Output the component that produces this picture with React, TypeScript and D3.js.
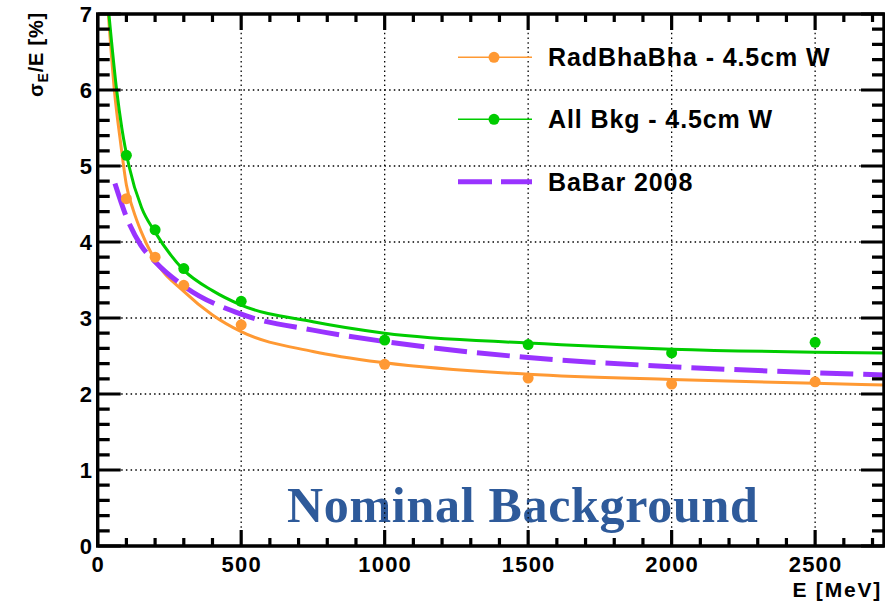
import React from "react";
import * as d3 from "d3";

// Fit curves
const orangeFitE = [37, 58, 80, 100, 124, 150, 200, 300, 400, 500, 750, 1000, 1500, 2000, 2500, 2740];
const orangeFitV = [7.0, 6.0, 5.3, 4.75, 4.42, 4.15, 3.76, 3.35, 3.04, 2.82, 2.56, 2.41, 2.26, 2.19, 2.14, 2.12];
const greenFitE = [39, 66, 84, 109, 153, 200, 300, 400, 500, 750, 1000, 1500, 2000, 2500, 2740];
const greenFitV = [7.0, 6.0, 5.5, 5.0, 4.45, 4.13, 3.63, 3.36, 3.17, 2.95, 2.8, 2.67, 2.59, 2.55, 2.54];
const babarE = [60, 100, 150, 200, 300, 500, 750, 1000, 1500, 2000, 2500, 2740];
const babarV = [4.77, 4.33, 3.96, 3.74, 3.42, 3.05, 2.84, 2.69, 2.48, 2.36, 2.28, 2.25];

// Measured points
const pointE = [100, 200, 300, 500, 1000, 1500, 2000, 2500];
const orangePts = [4.57, 3.8, 3.43, 2.91, 2.39, 2.21, 2.13, 2.16];
const greenPts = [5.14, 4.16, 3.65, 3.22, 2.71, 2.65, 2.54, 2.68];

const xTicks = [0, 500, 1000, 1500, 2000, 2500];
const yTicks = [0, 1, 2, 3, 4, 5, 6, 7];
const legendLabels = ["RadBhaBha - 4.5cm W", "All Bkg - 4.5cm W", "BaBar 2008"];

const ORANGE = "#ff9933";
const GREEN = "#00cc00";
const PURPLE = "#9933ff";

const L = 97.7, R = 884, T = 14, B = 546;

export default function App() {
  const x = d3.scaleLinear().domain([0, 2740]).range([L, R]);
  const y = d3.scaleLinear().domain([0, 7]).range([B, T]);
  const line = d3
    .line<[number, number]>()
    .x((d) => x(d[0]))
    .y((d) => y(d[1]))
    .curve(d3.curveMonotoneX);
  const zip = (a: number[], b: number[]) => a.map((v, i) => [v, b[i]] as [number, number]);

  const xMinor = d3.range(100, 2740, 100).filter((v) => v % 500 !== 0);
  const yMinor = d3.range(1, 35).filter((k) => k % 5 !== 0).map((k) => k / 5);

  const p = d3.path();
  const seg = (x1: number, y1: number, x2: number, y2: number) => {
    p.moveTo(x1, y1);
    p.lineTo(x2, y2);
  };
  xTicks.forEach((v) => {
    seg(x(v), B, x(v), B - 16);
    seg(x(v), T, x(v), T + 16);
  });
  xMinor.forEach((v) => {
    seg(x(v), B, x(v), B - 8);
    seg(x(v), T, x(v), T + 8);
  });
  yTicks.forEach((v) => {
    seg(L, y(v), L + 23, y(v));
    seg(R, y(v), R - 23, y(v));
  });
  yMinor.forEach((v) => {
    seg(L, y(v), L + 12, y(v));
    seg(R, y(v), R - 12, y(v));
  });
  const tickPath = p.toString();
  const framePath = `M${L},${T}H${R}V${B}H${L}Z`;

  const font = "'Liberation Sans', Arial, Helvetica, sans-serif";

  return (
    <div style={{ position: "absolute", left: 0, top: 0, width: 885, height: 602, background: "#fff" }}>
      <svg width={885} height={602} viewBox="0 0 885 602" style={{ display: "block" }}>
        <defs>
          <clipPath id="plot">
            <rect x={L} y={T} width={R - L} height={B - T} />
          </clipPath>
        </defs>

        {/* Nominal Background label */}
        <text
          x={287}
          y={521.5}
          fontFamily="'Liberation Serif', 'Times New Roman', serif"
          fontWeight="bold"
          fontSize={50}
          letterSpacing={0.7}
          fill="#2e5a9a"
        >
          Nominal Background
        </text>

        {/* grid */}
        {xTicks.filter((v) => v > 0).map((v) => (
          <line key={"gx" + v} x1={x(v)} x2={x(v)} y1={T} y2={B} stroke="#000" strokeWidth={1.3} strokeDasharray="1.5 3.2" />
        ))}
        {yTicks.filter((v) => v > 0 && v < 7).map((v) => (
          <line key={"gy" + v} x1={L} x2={R} y1={y(v)} y2={y(v)} stroke="#000" strokeWidth={1.3} strokeDasharray="1.5 3.2" />
        ))}

        {/* curves */}
        <g clipPath="url(#plot)">
          <path d={line(zip(orangeFitE, orangeFitV)) || ""} fill="none" stroke={ORANGE} strokeWidth={3} />
          <path d={line(zip(greenFitE, greenFitV)) || ""} fill="none" stroke={GREEN} strokeWidth={3} />
          <path d={line(zip(babarE, babarV)) || ""} fill="none" stroke={PURPLE} strokeWidth={5} strokeDasharray="33 10" />
        </g>

        {/* points */}
        {pointE.map((e, i) => (
          <circle key={"o" + i} cx={x(e)} cy={y(orangePts[i])} r={5.5} fill={ORANGE} />
        ))}
        {pointE.map((e, i) => (
          <circle key={"g" + i} cx={x(e)} cy={y(greenPts[i])} r={5.5} fill={GREEN} />
        ))}

        {/* ticks and frame */}
        <path d={tickPath} fill="none" stroke="#000" strokeWidth={3.2} />
        <path d={framePath} fill="none" stroke="#000" strokeWidth={3.4} />

        {/* tick labels */}
        {yTicks.map((v) => (
          <text key={"yl" + v} x={93} y={y(v) + 8} textAnchor="end" fontFamily={font} fontWeight="bold" fontSize={22} letterSpacing={1}>
            {v}
          </text>
        ))}
        {xTicks.map((v) => (
          <text key={"xl" + v} x={x(v) + 0.5} y={572} textAnchor="middle" fontFamily={font} fontWeight="bold" fontSize={22} letterSpacing={1.2}>
            {v}
          </text>
        ))}

        {/* axis titles */}
        <text x={882} y={597} textAnchor="end" fontFamily={font} fontWeight="bold" fontSize={21} letterSpacing={1.8}>
          E [MeV]
        </text>
        <text
          transform="translate(43,12) rotate(-90)"
          textAnchor="end"
          fontFamily={font}
          fontWeight="bold"
          fontSize={20}
          letterSpacing={0.8}
        >
          σ<tspan dy={5} fontSize={14}>E</tspan>
          <tspan dy={-5}>/E [%]</tspan>
        </text>

        {/* legend */}
        <line x1={458} x2={532} y1={57.3} y2={57.3} stroke={ORANGE} strokeWidth={1.5} />
        <circle cx={494} cy={57.3} r={5.5} fill={ORANGE} />
        <line x1={458} x2={532} y1={119.3} y2={119.3} stroke={GREEN} strokeWidth={1.5} />
        <circle cx={494} cy={119.3} r={5.5} fill={GREEN} />
        <line x1={458} x2={532} y1={181.7} y2={181.7} stroke={PURPLE} strokeWidth={5} strokeDasharray="34 9" />
        {legendLabels.map((t, i) => (
          <text key={t} x={548} y={[57.3, 119.3, 181.7][i] + 9} fontFamily={font} fontWeight="bold" fontSize={25} letterSpacing={0.9}>
            {t}
          </text>
        ))}
      </svg>
    </div>
  );
}
